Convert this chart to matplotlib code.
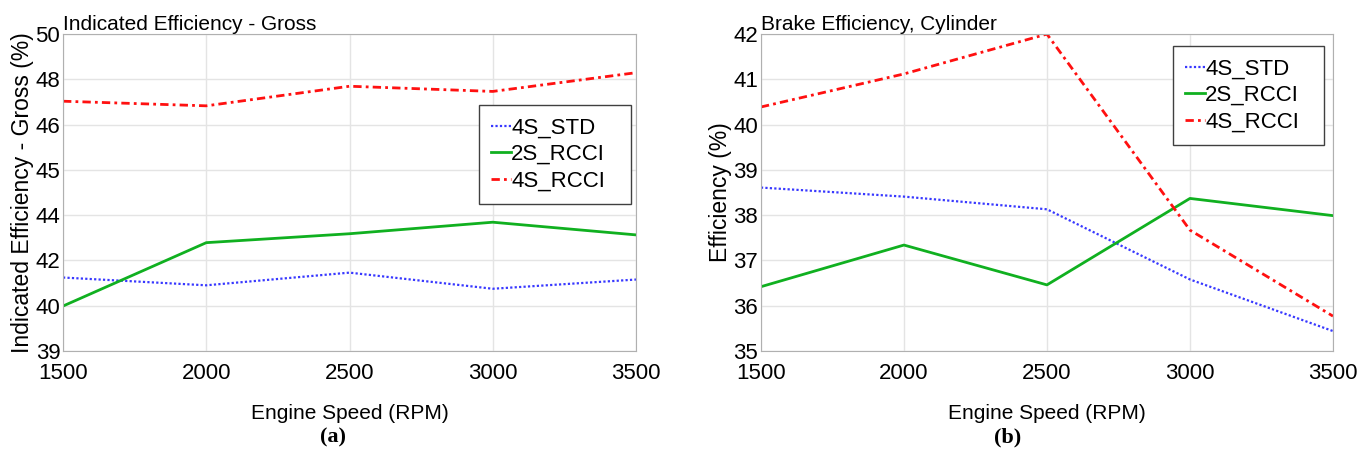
import numpy as np
import matplotlib.pyplot as plt

plt.rcParams['font.family'] = ['Liberation Sans', 'DejaVu Sans']

rpm = [1500, 2000, 2500, 3000, 3500]

# (a) indicated efficiency - gross
ind_4s_std = [41.55, 41.28, 41.72, 41.16, 41.48]
ind_2s_rcci = [40.56, 42.76, 43.07, 43.47, 43.03]
ind_4s_rcci = [47.67, 47.51, 48.19, 48.01, 48.66]
ind_ylabels = ['39', '40', '42', '44', '45', '46', '48', '50']

# (b) brake efficiency, cylinder
brk_4s_std = [38.61, 38.41, 38.13, 36.58, 35.44]
brk_2s_rcci = [36.42, 37.34, 36.46, 38.37, 37.99]
brk_4s_rcci = [40.39, 41.12, 42.0, 37.67, 35.77]
brk_yticks = [35, 36, 37, 38, 39, 40, 41, 42]

fig = plt.figure(figsize=(13.61, 4.54), dpi=100)
ax1 = fig.add_axes([0.0463, 0.2269, 0.421, 0.698])
ax2 = fig.add_axes([0.5591, 0.2269, 0.4203, 0.698])

def style(ax, ylim, yticks, ylabels, title, ylabel):
    ax.plot(rpm, s1, color='#3838ff', ls=(0, (1, 1)), lw=1.6, label='4S_STD')
    ax.plot(rpm, s2, color='#10b020', ls='-', lw=2.0, label='2S_RCCI')
    ax.plot(rpm, s3, color='#ff1010', ls=(0, (3, 1.5, 1, 1.5)), lw=2.0, label='4S_RCCI')
    ax.set_xlim(1500, 3500)
    ax.set_ylim(*ylim)
    ax.set_xticks(rpm)
    ax.set_yticks(yticks)
    ax.set_yticklabels(ylabels)
    ax.tick_params(length=0, labelsize=16, pad=2)
    ax.tick_params(axis='x', pad=9)
    ax.grid(True, color='#e4e4e4', lw=1)
    for sp in ax.spines.values():
        sp.set_color('#b0b0b0')
    ax.set_xlabel('Engine Speed (RPM)', fontsize=15, labelpad=14)
    ax.set_ylabel(ylabel, fontsize=16.5, labelpad=1)
    ax.set_title(title, loc='left', fontsize=15, pad=1)

def add_legend(ax, x0, top, w, h):
    leg = ax.legend(loc='upper left', bbox_to_anchor=(x0, top - h, w, h), mode='expand',
                    fontsize=16, handlelength=0.9, handletextpad=0.0, borderpad=0.55,
                    borderaxespad=0, labelspacing=0.25, fancybox=False, framealpha=1)
    leg.get_frame().set_edgecolor('#404040')
    return leg

s1, s2, s3 = ind_4s_std, ind_2s_rcci, ind_4s_rcci
style(ax1, (39, 50), np.linspace(39, 50, 8), ind_ylabels,
      'Indicated Efficiency - Gross', 'Indicated Efficiency - Gross (%)')
add_legend(ax1, 0.726, 0.776, 0.265, 0.322)

s1, s2, s3 = brk_4s_std, brk_2s_rcci, brk_4s_rcci
style(ax2, (35, 42), brk_yticks, [str(t) for t in brk_yticks],
      'Brake Efficiency, Cylinder', 'Efficiency (%)')
add_legend(ax2, 0.720, 0.962, 0.264, 0.322)

fig.text(333 / 1361, 1 - 437 / 454, '(a)', family='Liberation Serif', weight='bold',
         fontsize=16, ha='center', va='center')
fig.text(1008 / 1361, 1 - 437 / 454, '(b)', family='Liberation Serif', weight='bold',
         fontsize=16, ha='center', va='center')

fig.savefig('out.png', dpi=100)
